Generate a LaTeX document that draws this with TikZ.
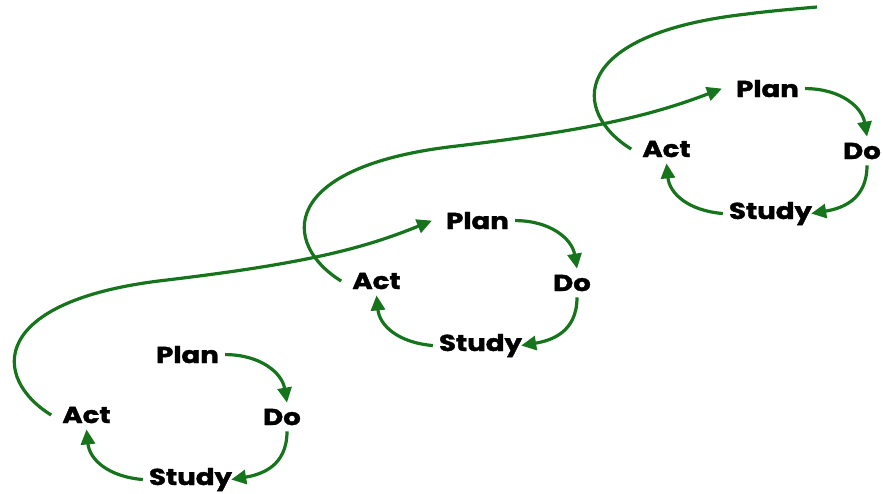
\documentclass[tikz,border=0pt]{standalone}
\usepackage{fontspec}
\setmainfont{Poppins}[BoldFeatures={FakeBold=1.5}]
\usetikzlibrary{arrows.meta}
\definecolor{pdsa}{RGB}{22,116,28}
\begin{document}
\begin{tikzpicture}[x=1pt,y=-1pt,
  lbl/.style={font=\fontsize{23}{23}\selectfont\bfseries, inner sep=6pt, anchor=base},
  flow/.style={draw=pdsa, line width=3.2pt, line cap=butt},
  cyc/.style={flow, -{Triangle[length=15pt,width=14pt]}}]
\useasboundingbox (0,0) rectangle (883,493);
\foreach \i/\dx/\dy in {1/0/0,2/290/-134,3/580/-266}{
  \begin{scope}[shift={(\dx,\dy)}]
    \node[lbl] (p\i) at (187.5,363) {\scalebox{1.2}[1]{Plan}};
    \node[lbl] (d\i) at (282,425) {\scalebox{1.2}[1]{Do}};
    \node[lbl] (s\i) at (190.5,485) {\scalebox{1.2}[1]{Study}};
    \node[lbl] (a\i) at (86.5,423) {\scalebox{1.2}[1]{Act}};
    \coordinate (m\i) at (167,280);
    \coordinate (e\i) at (237,273);
    \draw[cyc] (p\i.east) .. controls +(35,0) and +(-5,-30) .. ([xshift=5pt]d\i.north);
    \draw[cyc] ([xshift=5pt]d\i.south) .. controls +(0,35) and +(30,-5) .. ([xshift=-7pt]s\i.east);
    \draw[cyc] (s\i.west) .. controls +(-35,-3) and +(3,30) .. (a\i.south);
  \end{scope}
}
\foreach \i/\j/\dx/\dy in {1/2/0/0,2/3/290/-134}{
  \begin{scope}[shift={(\dx,\dy)}]
    \draw[cyc] ([xshift=-5pt]a\i.west) .. controls +(-60,-37) and (-12,300) .. (m\i)
      .. controls (300,264) and (360,250) .. ([xshift=-8pt]p\j.west);
  \end{scope}
}
\begin{scope}[shift={(580,-266)}]
  \draw[flow] ([xshift=-5pt]a3.west) .. controls +(-60,-37) and (-12,300) .. (m3)
    .. controls (190,277) and (214,275) .. (e3);
\end{scope}
\end{tikzpicture}
\end{document}
